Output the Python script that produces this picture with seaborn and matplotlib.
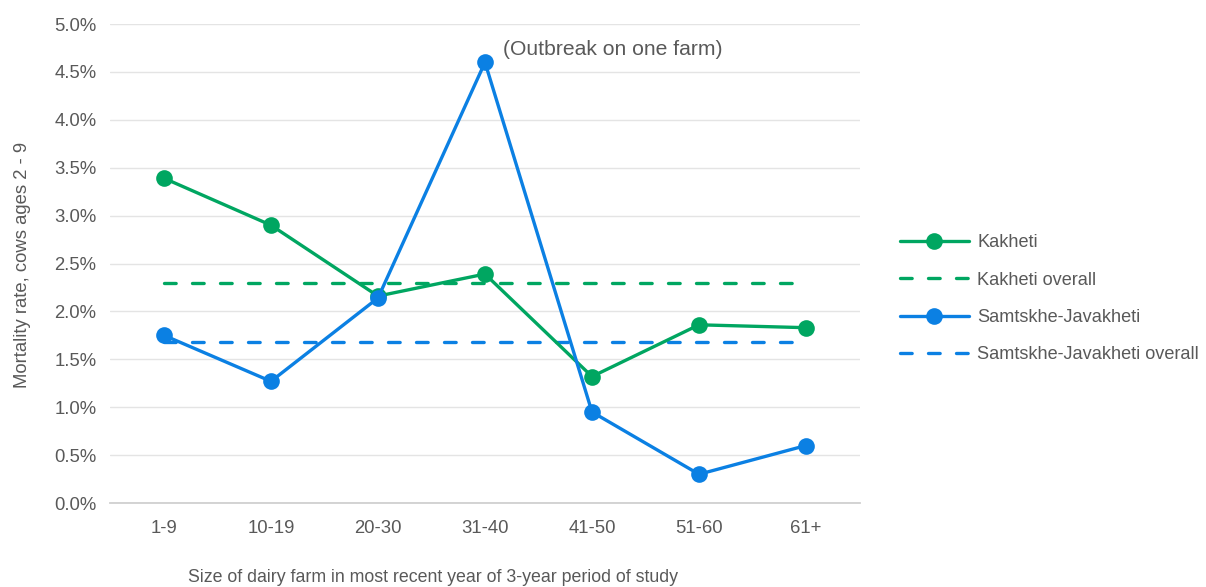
import matplotlib
matplotlib.use("Agg")
import matplotlib.pyplot as plt
from matplotlib.lines import Line2D
from matplotlib.ticker import FuncFormatter, MultipleLocator
import pandas as pd
import seaborn as sns

# Farm size groups and mortality rates (percent)
farm_sizes = ["1-9", "10-19", "20-30", "31-40", "41-50", "51-60", "61+"]
kakheti = [3.39, 2.90, 2.16, 2.39, 1.32, 1.86, 1.83]
samtskhe = [1.75, 1.27, 2.14, 4.60, 0.95, 0.30, 0.60]
kakheti_overall = 2.30
samtskhe_overall = 1.68

GREEN = "#00A661"
BLUE = "#0B80E3"
TEXT = "#595959"

sns.set_theme(style="white")
plt.rcParams["font.family"] = ["Liberation Sans", "DejaVu Sans"]

fig = plt.figure(figsize=(12.06, 5.87), dpi=100)
ax = fig.add_axes([0.0916, 0.1431, 0.6211, 0.8160])

pos = list(range(len(farm_sizes)))
df = pd.DataFrame({
    "pos": pos * 4,
    "rate": kakheti + [kakheti_overall] * len(pos) + samtskhe + [samtskhe_overall] * len(pos),
    "series": (["Kakheti"] * len(pos) + ["Kakheti overall"] * len(pos)
               + ["Samtskhe-Javakheti"] * len(pos) + ["Samtskhe-Javakheti overall"] * len(pos)),
})

lw = 2.4
ms = 12
dash = (3.5, 4.9)
styles = {
    "Kakheti overall": (GREEN, True),
    "Samtskhe-Javakheti overall": (BLUE, True),
    "Kakheti": (GREEN, False),
    "Samtskhe-Javakheti": (BLUE, False),
}
for name, (color, dashed) in styles.items():
    sub = df[df["series"] == name]
    sns.lineplot(data=sub, x="pos", y="rate", ax=ax, color=color, linewidth=lw,
                 marker=None if dashed else "o", markersize=ms,
                 markeredgewidth=0, legend=False, zorder=3 if not dashed else 2,
                 sort=False)
    line = ax.lines[-1]
    if dashed:
        line.set_dashes(dash)
        line.set_dash_capstyle("round")
    else:
        line.set_solid_capstyle("round")

ax.set_xlim(-0.5, len(pos) - 0.5)
ax.set_ylim(0, 5.0)
ax.yaxis.set_major_locator(MultipleLocator(0.5))
ax.yaxis.set_major_formatter(FuncFormatter(lambda v, _: f"{v:.1f}%"))
ax.set_xticks(pos)
ax.set_xticklabels(farm_sizes)

ax.grid(axis="y", color="#E4E4E4", linewidth=1.0, zorder=0)
ax.grid(axis="x", visible=False)
for side in ["top", "right", "left"]:
    ax.spines[side].set_visible(False)
ax.spines["bottom"].set_color("#D0D0D0")
ax.spines["bottom"].set_linewidth(1.3)
ax.tick_params(axis="both", length=0, labelsize=13.3, colors=TEXT)
ax.tick_params(axis="x", pad=12)
ax.tick_params(axis="y", pad=10)

ax.set_xlabel("Size of dairy farm in most recent year of 3-year period of study",
              fontsize=12.8, color=TEXT)
ax.xaxis.label.set_va("center")
ax.xaxis.set_label_coords(0.43, -0.1545)
ax.set_ylabel("Mortality rate, cows ages 2 - 9", fontsize=13.3, color=TEXT)
ax.yaxis.label.set_va("center")
ax.yaxis.set_label_coords(-0.117, 0.497)

ax.annotate("(Outbreak on one farm)", xy=(3, 4.60), xytext=(3.17, 4.73),
            textcoords="data", fontsize=15.2, color=TEXT, ha="left", va="center")

handles = [
    Line2D([], [], color=GREEN, lw=lw, marker="o", markersize=ms, markeredgewidth=0),
    Line2D([], [], color=GREEN, lw=lw, dashes=dash, dash_capstyle="round"),
    Line2D([], [], color=BLUE, lw=lw, marker="o", markersize=ms, markeredgewidth=0),
    Line2D([], [], color=BLUE, lw=lw, dashes=dash, dash_capstyle="round"),
]
labels = ["Kakheti", "Kakheti overall", "Samtskhe-Javakheti", "Samtskhe-Javakheti overall"]
leg = fig.legend(handles, labels, loc="upper left", bbox_to_anchor=(0.7325, 0.629),
                 frameon=False, fontsize=13.1, handlelength=3.8, handletextpad=0.45,
                 labelspacing=1.12, labelcolor=TEXT)

fig.savefig("out.png", dpi=100)
